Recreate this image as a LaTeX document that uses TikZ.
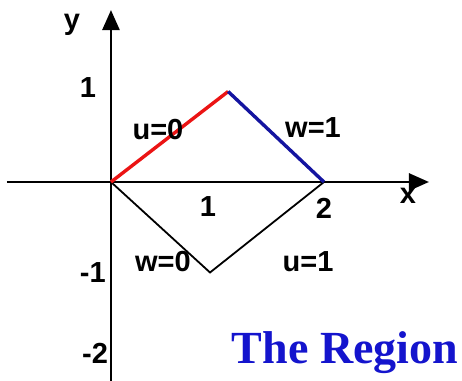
\documentclass[tikz,border=0pt]{standalone}
\usepackage{fontspec}
\setmainfont{Liberation Sans}
\newfontfamily\titlefont{Liberation Serif}
\usetikzlibrary{arrows.meta, positioning}
\definecolor{edgered}{RGB}{235, 20, 20}
\definecolor{edgeblue}{RGB}{20, 20, 160}
\definecolor{titleblue}{RGB}{20, 20, 205}

\tikzset{
  axis/.style={line width=2.6pt, -{Triangle[length=20pt, width=17pt]}},
  lbl/.style={inner sep=0pt, font=\bfseries\fontsize{29}{31}\selectfont},
  side/.style={line width=1.8pt},
}

\begin{document}
\begin{tikzpicture}[x=106.5pt, y=90.5pt]
  \useasboundingbox (-1.042,-2.188) rectangle (3.296,2.011);

  % axes
  \coordinate (xl) at (-0.977,0);
  \coordinate (xr) at (2.986,0);
  \coordinate (yb) at (0,-2.25);
  \coordinate (yt) at (0,1.9);
  \draw[axis] (xl) -- (xr);
  \draw[axis] (yb) -- (yt);

  % corners of the region
  \coordinate (O) at (0,0);
  \coordinate (T) at (1.1,1);
  \coordinate (R) at (2,0);
  \coordinate (B) at (0.93,-1);

  \draw[side] (O) -- (B) -- (R);
  \draw[edgered, line width=3.4pt] (O) -- (T);
  \draw[edgeblue, line width=3.4pt] (T) -- (R);

  % ticks and axis names
  \node[lbl] (ylab) at (-0.366,1.74) {y};
  \node[lbl] (xlab) at (2.789,-0.15) {x};
  \node[lbl] (yone) at (-0.216,1.04) {1};
  \node[lbl] (ymone) at (-0.17,-1.0) {-1};
  \node[lbl] (ymtwo) at (-0.15,-1.89) {-2};
  \node[lbl] (xone) at (0.911,-0.276) {1};
  \node[lbl] (xtwo) at (2.0,-0.287) {2};

  % edge labels
  \node[lbl] (u0) at (0.441,0.575) {u=0};
  \node[lbl] (w1) at (1.897,0.597) {w=1};
  \node[lbl] (w0) at (0.488,-0.884) {w=0};
  \node[lbl] (u1) at (1.85,-0.884) {u=1};

  \node[inner sep=0pt, text=titleblue, font=\titlefont\bfseries\fontsize{46}{48}\selectfont] (title) at (2.197,-1.89) {The Region};
\end{tikzpicture}
\end{document}
